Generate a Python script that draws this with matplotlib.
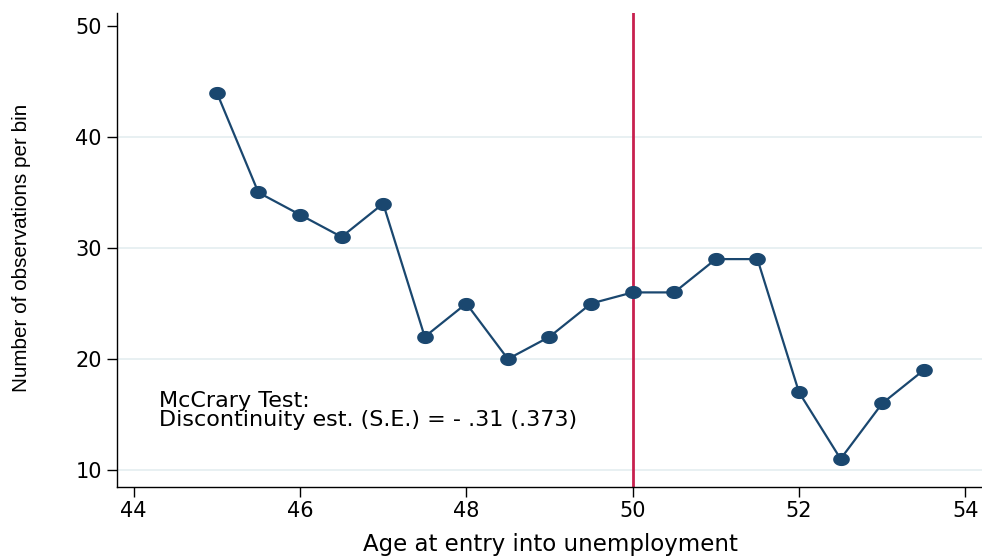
import matplotlib
matplotlib.use("Agg")
import matplotlib.pyplot as plt
import numpy as np
from matplotlib.path import Path

age = [45.0, 45.5, 46.0, 46.5, 47.0, 47.5, 48.0, 48.5, 49.0, 49.5,
       50.0, 50.5, 51.0, 51.5, 52.0, 52.5, 53.0, 53.5]
count = [44, 35, 33, 31, 34, 22, 25, 20, 22, 25,
         26, 26, 29, 29, 17, 11, 16, 19]
xticks = [44, 46, 48, 50, 52, 54]
yticks = [10, 20, 30, 40, 50]
cutoff = 50
note = "McCrary Test:\nDiscontinuity est. (S.E.) = - .31 (.373)"

plt.rcParams['font.family'] = ['DejaVu Sans']

fig = plt.figure(figsize=(9.82, 5.58), dpi=100)
ax = fig.add_axes([117/982, 1-487/558, 1-117/982, (487-13)/558])

t = np.linspace(0, 2*np.pi, 40)
ell = Path(np.column_stack([1.3*np.cos(t), np.sin(t)]), closed=True)

navy = '#1a476f'
for yv in yticks[:-1]:
    ax.axhline(yv, color='#e6eff1', lw=1.3, zorder=0)
ax.axvline(cutoff, color='#c8204e', lw=2, zorder=1)
ax.plot(age, count, color=navy, lw=1.6, marker=ell, markersize=11,
        markerfacecolor=navy, markeredgecolor=navy, zorder=3)

ax.set_xlim(43.8, 54.2)
ax.set_ylim(8.47, 51.17)
ax.set_xticks(xticks)
ax.set_yticks(yticks)
ax.tick_params(direction='out', length=7, width=1, labelsize=15, colors='black', pad=3)
ax.tick_params(axis='y', pad=4)
for s in ['top', 'right']:
    ax.spines[s].set_visible(False)
for s in ['left', 'bottom']:
    ax.spines[s].set_linewidth(1)

ax.text(44.31, 17.1, note, fontsize=16, va='top', ha='left', linespacing=0.95)

ax.set_xlabel('Age at entry into unemployment', fontsize=16.5, va='center')
ax.xaxis.set_label_coords((550-117)/865, (487-545)/474)
ax.set_ylabel('Number of observations per bin', fontsize=14.9, va='center',
              family='Liberation Sans')
ax.yaxis.set_label_coords((22-117)/865, 0.5 + (474/2 - (248-13))/474)

fig.savefig('out.png', dpi=100)
